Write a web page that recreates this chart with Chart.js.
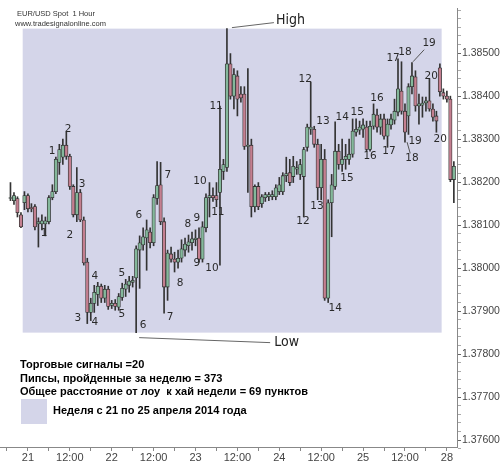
<!DOCTYPE html>
<html>
<head>
<meta charset="utf-8">
<script src="https://cdn.jsdelivr.net/npm/chart.js@4.4.1/dist/chart.umd.min.js"></script>
<style>
  body { margin: 0; background: #fff; }
  #wrap { position: relative; width: 500px; height: 468px; overflow: hidden; }
  #wrap canvas { position: absolute; left: 0; top: 0; }
  .hdr { position: absolute; font: 7.5px "Liberation Sans", Arial, sans-serif; color: #333; white-space: nowrap; }
  .info { position: absolute; left: 20px; font: bold 11px/13px "Liberation Sans", Arial, sans-serif; color: #000; white-space: nowrap; }
  .swatch { position: absolute; left: 21px; top: 399px; width: 26px; height: 25px; background: #d4d5e9; }
</style>
</head>
<body>
<div id="wrap">
  <canvas id="myChart" width="500" height="468"></canvas>
  <div class="hdr" style="left:17px;top:9px">EUR/USD Spot&nbsp; 1 Hour</div>
  <div class="hdr" style="left:15px;top:19px">www.tradesignalonline.com</div>
  <div class="info" style="top:358px">Торговые сигналы =20</div>
  <div class="info" style="top:372px">Пипсы, пройденные за неделю = 373</div>
  <div class="info" style="top:385px">Общее расстояние от лоу&nbsp; к хай недели = 69 пунктов</div>
  <div class="swatch"></div>
  <div class="info" style="left:53px;top:404px">Неделя с 21 по 25 апреля 2014 года</div>
</div>
<script>
// EUR/USD 1 hour candles, 21-25 Apr 2014 (+ first hours of 28 Apr)
// bar hour counted from 21 Apr 00:00, weekend hours left out
const firstBarHour = -5;

const opens = [
  1.38162, 1.38157, 1.38162, 1.38124, 1.38152, 1.38169, 1.38141, 1.38143, 1.38103, 1.38103,
  1.38103, 1.38108, 1.38164, 1.38178, 1.38246, 1.38258, 1.38286, 1.38260, 1.38190, 1.38124,
  1.38176, 1.38112, 1.38014, 1.37897, 1.37918, 1.37939, 1.37958, 1.37930, 1.37951, 1.37913,
  1.37918, 1.37909, 1.37932, 1.37951, 1.37960, 1.37967, 1.37977, 1.38042, 1.38054, 1.38070,
  1.38084, 1.38059, 1.38162, 1.38194, 1.38108, 1.37956, 1.38033, 1.38021, 1.38014, 1.38023,
  1.38042, 1.38052, 1.38059, 1.38066, 1.38070, 1.38021, 1.38094, 1.38164, 1.38169, 1.38169,
  1.38176, 1.38225, 1.38234, 1.38475, 1.38400, 1.38447, 1.38405, 1.38405, 1.38283, 1.38286,
  1.38143, 1.38190, 1.38150, 1.38164, 1.38166, 1.38166, 1.38166, 1.38178, 1.38178, 1.38215,
  1.38222, 1.38213, 1.38230, 1.38218, 1.38213, 1.38281, 1.38323, 1.38323, 1.38288, 1.38187,
  1.38253, 1.37930, 1.38152, 1.38190, 1.38272, 1.38241, 1.38253, 1.38253, 1.38265, 1.38316,
  1.38321, 1.38323, 1.38328, 1.38276, 1.38330, 1.38356, 1.38328, 1.38347, 1.38307, 1.38333,
  1.38344, 1.38363, 1.38412, 1.38365, 1.38354, 1.38422, 1.38445, 1.38377, 1.38379, 1.38384,
  1.38389, 1.38370, 1.38354, 1.38466, 1.38408, 1.38400, 1.38393, 1.38206
];
const highs = [
  1.38199, 1.38176, 1.38166, 1.38129, 1.38178, 1.38173, 1.38150, 1.38148, 1.38117, 1.38124,
  1.38119, 1.38169, 1.38194, 1.38258, 1.38288, 1.38300, 1.38316, 1.38265, 1.38194, 1.38234,
  1.38183, 1.38119, 1.38023, 1.37930, 1.37960, 1.37967, 1.37963, 1.37960, 1.37958, 1.37925,
  1.37927, 1.37941, 1.37965, 1.37974, 1.37981, 1.37981, 1.38052, 1.38075, 1.38094, 1.38112,
  1.38094, 1.38171, 1.38248, 1.38246, 1.38117, 1.38042, 1.38049, 1.38037, 1.38042, 1.38066,
  1.38070, 1.38077, 1.38084, 1.38089, 1.38094, 1.38108, 1.38173, 1.38199, 1.38187, 1.38199,
  1.38377, 1.38253, 1.38557, 1.38499, 1.38464, 1.38459, 1.38422, 1.38422, 1.38464, 1.38300,
  1.38194, 1.38199, 1.38171, 1.38176, 1.38176, 1.38180, 1.38194, 1.38211, 1.38222, 1.38258,
  1.38253, 1.38260, 1.38248, 1.38253, 1.38281, 1.38335, 1.38433, 1.38330, 1.38300, 1.38288,
  1.38276, 1.38159, 1.38218, 1.38340, 1.38288, 1.38300, 1.38288, 1.38300, 1.38347, 1.38347,
  1.38342, 1.38347, 1.38342, 1.38342, 1.38382, 1.38370, 1.38358, 1.38358, 1.38347, 1.38358,
  1.38393, 1.38487, 1.38480, 1.38382, 1.38429, 1.38478, 1.38459, 1.38405, 1.38398, 1.38398,
  1.38440, 1.38382, 1.38365, 1.38475, 1.38417, 1.38412, 1.38400, 1.38248
];
const lows = [
  1.38157, 1.38148, 1.38119, 1.38094, 1.38136, 1.38131, 1.38131, 1.38089, 1.38049, 1.38089,
  1.38075, 1.38103, 1.38159, 1.38173, 1.38218, 1.38241, 1.38253, 1.38183, 1.38119, 1.38108,
  1.38108, 1.38007, 1.37871, 1.37878, 1.37897, 1.37913, 1.37920, 1.37920, 1.37904, 1.37906,
  1.37902, 1.37902, 1.37925, 1.37934, 1.37944, 1.37956, 1.37850, 1.37953, 1.38042, 1.37995,
  1.38047, 1.38052, 1.38148, 1.38101, 1.37895, 1.37925, 1.38014, 1.37991, 1.38000, 1.38014,
  1.38028, 1.38037, 1.38042, 1.38052, 1.38014, 1.38014, 1.38084, 1.38119, 1.38155, 1.38143,
  1.38007, 1.38206, 1.38225, 1.38393, 1.38370, 1.38354, 1.38386, 1.38276, 1.38176, 1.38119,
  1.38131, 1.38136, 1.38141, 1.38155, 1.38157, 1.38159, 1.38159, 1.38171, 1.38171, 1.38201,
  1.38192, 1.38199, 1.38218, 1.38206, 1.38119, 1.38272, 1.38311, 1.38281, 1.38159, 1.38159,
  1.37925, 1.37920, 1.38073, 1.38183, 1.38230, 1.38225, 1.38230, 1.38241, 1.38258, 1.38307,
  1.38311, 1.38304, 1.38272, 1.38272, 1.38323, 1.38316, 1.38311, 1.38300, 1.38281, 1.38323,
  1.38335, 1.38354, 1.38358, 1.38293, 1.38311, 1.38405, 1.38365, 1.38335, 1.38351, 1.38365,
  1.38365, 1.38342, 1.38316, 1.38400, 1.38393, 1.38386, 1.38201, 1.38152
];
const closes = [
  1.38164, 1.38169, 1.38129, 1.38096, 1.38169, 1.38138, 1.38138, 1.38096, 1.38108, 1.38110,
  1.38110, 1.38164, 1.38178, 1.38253, 1.38276, 1.38286, 1.38260, 1.38190, 1.38124, 1.38176,
  1.38112, 1.38012, 1.37897, 1.37918, 1.37944, 1.37958, 1.37930, 1.37951, 1.37911, 1.37918,
  1.37911, 1.37934, 1.37953, 1.37963, 1.37970, 1.37972, 1.38045, 1.38059, 1.38073, 1.38089,
  1.38059, 1.38164, 1.38192, 1.38108, 1.37956, 1.38035, 1.38021, 1.38014, 1.38023, 1.38045,
  1.38056, 1.38061, 1.38068, 1.38070, 1.38021, 1.38096, 1.38164, 1.38169, 1.38164, 1.38159,
  1.38230, 1.38241, 1.38475, 1.38400, 1.38450, 1.38393, 1.38396, 1.38283, 1.38286, 1.38143,
  1.38190, 1.38143, 1.38166, 1.38171, 1.38171, 1.38171, 1.38187, 1.38194, 1.38215, 1.38220,
  1.38199, 1.38237, 1.38234, 1.38241, 1.38276, 1.38328, 1.38328, 1.38288, 1.38187, 1.38253,
  1.37930, 1.38152, 1.38194, 1.38272, 1.38241, 1.38253, 1.38260, 1.38265, 1.38319, 1.38323,
  1.38328, 1.38333, 1.38276, 1.38330, 1.38358, 1.38328, 1.38347, 1.38307, 1.38335, 1.38347,
  1.38365, 1.38417, 1.38365, 1.38316, 1.38422, 1.38447, 1.38377, 1.38382, 1.38384, 1.38389,
  1.38370, 1.38351, 1.38342, 1.38410, 1.38400, 1.38393, 1.38206, 1.38237
];

// highlighted trading week (bar hours)
const weekFirstBar = -1;
const weekLastBar = 118;

const xTickHours = [0, 12, 24, 36, 48, 60, 72, 84, 96, 108, 120];
const xTickLabels = ['21', '12:00', '22', '12:00', '23', '12:00', '24', '12:00', '25', '12:00', '28'];
const yTickLabels = ['1.37600', '1.37700', '1.37800', '1.37900', '1.38000', '1.38100', '1.38200', '1.38300', '1.38400', '1.38500'];

// trade signal numbers: [text, bar hour, price]
const signalLabels = [
  ['1', 6.9, 1.38272], ['1', 4.6, 1.38082], ['2', 11.5, 1.38323], ['2', 12.0, 1.38077],
  ['3', 15.5, 1.38194], ['3', 14.3, 1.37883], ['4', 19.2, 1.37981], ['4', 19.2, 1.37874],
  ['5', 26.9, 1.37988], ['5', 26.9, 1.37892], ['6', 31.8, 1.38122], ['6', 33.0, 1.37867],
  ['7', 40.1, 1.38215], ['7', 40.7, 1.37885], ['8', 45.8, 1.38101], ['8', 43.6, 1.37965],
  ['9', 48.4, 1.38117], ['9', 48.4, 1.38012], ['10', 49.3, 1.38201], ['10', 52.7, 1.38000],
  ['11', 53.9, 1.38377], ['11', 54.4, 1.38129], ['12', 79.4, 1.38440], ['12', 78.8, 1.38108],
  ['13', 84.5, 1.38342], ['13', 82.8, 1.38143], ['14', 90.0, 1.38351], ['14', 88.0, 1.37906],
  ['15', 94.3, 1.38363], ['15', 91.4, 1.38208], ['16', 100.0, 1.38396], ['16', 98.0, 1.38260],
  ['17', 104.6, 1.38489], ['17', 103.4, 1.38272], ['18', 108.0, 1.38501], ['18', 110.0, 1.38255],
  ['19', 114.9, 1.38522], ['19', 110.9, 1.38295], ['20', 115.5, 1.38447], ['20', 118.1, 1.38300]
];
// little pointer lines: [from hour, from price, to hour, to price]
const pointerLines = [
  [113.5, 1.38508, 110.3, 1.38480],
  [108.6, 1.38293, 109.5, 1.38267]
];

const GREEN = '#84b89b';
const RED = '#c47f90';
const SHADE = '#d4d5e9';
const font = '"Liberation Sans", Arial, sans-serif';

const hours = opens.map((o, i) => firstBarHour + i);
const wickData = hours.map((h, i) => ({ x: h, y: [lows[i], highs[i]] }));
const bodyData = hours.map((h, i) => ({ x: h, y: [opens[i], closes[i]] }));
const bodyColors = opens.map((o, i) => closes[i] >= o ? GREEN : RED);

const weekIdx = hours.map((h, i) => i).filter(i => hours[i] >= weekFirstBar && hours[i] <= weekLastBar);
const weekHighIdx = weekIdx.reduce((a, b) => highs[b] > highs[a] ? b : a);
const weekLowIdx = weekIdx.reduce((a, b) => lows[b] < lows[a] ? b : a);

const yTicks = [];
for (let k = 13758; k <= 13860; k += 2) yTicks.push(k / 10000);

const overlay = {
    id: 'overlay',
    beforeDatasetsDraw(chart) {
        const { ctx, scales: { x, y } } = chart;
        const left = x.getPixelForValue(weekFirstBar - 0.5);
        const right = x.getPixelForValue(weekLastBar + 0.5);
        const top = y.getPixelForValue(highs[weekHighIdx]);
        const bottom = y.getPixelForValue(lows[weekLowIdx]);
        ctx.save();
        ctx.fillStyle = SHADE;
        ctx.fillRect(left, top, right - left, bottom - top);
        ctx.restore();
    },
    afterDatasetsDraw(chart) {
        const { ctx, scales: { x, y } } = chart;
        ctx.save();
        ctx.fillStyle = '#2a2a2a';
        ctx.font = '10.5px "DejaVu Sans", Arial, sans-serif';
        ctx.textAlign = 'center';
        ctx.textBaseline = 'middle';
        signalLabels.forEach(([t, h, p]) => {
            ctx.fillText(t, x.getPixelForValue(h), y.getPixelForValue(p));
        });

        ctx.strokeStyle = '#555';
        ctx.lineWidth = 1;
        pointerLines.forEach(([h1, p1, h2, p2]) => {
            ctx.beginPath();
            ctx.moveTo(x.getPixelForValue(h1), y.getPixelForValue(p1));
            ctx.lineTo(x.getPixelForValue(h2), y.getPixelForValue(p2));
            ctx.stroke();
        });

        // High / Low callouts
        const hx = x.getPixelForValue(hours[weekHighIdx]);
        const hy = y.getPixelForValue(highs[weekHighIdx]);
        const lx = x.getPixelForValue(hours[weekLowIdx]);
        const ly = y.getPixelForValue(lows[weekLowIdx]);
        ctx.strokeStyle = '#666';
        ctx.beginPath();
        ctx.moveTo(hx + 5, hy - 1);
        ctx.lineTo(hx + 47, hy - 6);
        ctx.moveTo(lx + 3, ly + 5);
        ctx.lineTo(lx + 134, ly + 10);
        ctx.stroke();
        ctx.fillStyle = '#222';
        ctx.font = '14px "DejaVu Sans Condensed", ' + font;
        ctx.textAlign = 'left';
        ctx.fillText('High', hx + 49, hy - 8);
        ctx.fillText('Low', lx + 138, ly + 10);
        ctx.restore();
    }
};

const ctx = document.getElementById('myChart').getContext('2d');
const myChart = new Chart(ctx, {
    type: 'bar',
    data: {
        datasets: [{
            label: 'wick',
            data: wickData,
            backgroundColor: '#333',
            barThickness: 1,
            grouped: false,
            order: 2
        }, {
            label: 'body',
            data: bodyData,
            backgroundColor: bodyColors,
            borderColor: '#333',
            borderWidth: 0.8,
            borderSkipped: false,
            barThickness: 3.4,
            minBarLength: 1,
            grouped: false,
            order: 1
        }]
    },
    options: {
        responsive: false,
        animation: false,
        layout: { padding: { top: 8, left: 0, right: 0, bottom: 0 } },
        plugins: { legend: { display: false }, tooltip: { enabled: false } },
        scales: {
            x: {
                type: 'linear',
                min: -8,
                max: 122.9,
                offset: false,
                grid: { offset: false, drawOnChartArea: false, tickLength: 4, color: '#888' },
                border: { color: '#888' },
                afterBuildTicks: (scale) => {
                    const t = [];
                    for (let h = -6; h <= 120; h += 6) t.push({ value: h });
                    scale.ticks = t;
                },
                afterFit: (scale) => { scale.height = 21; },
                ticks: {
                    autoSkip: false,
                    maxRotation: 0,
                    padding: 0,
                    color: '#444',
                    font: { family: font, size: 11 },
                    callback: (v) => {
                        const k = xTickHours.indexOf(v);
                        return k >= 0 ? xTickLabels[k] : '';
                    }
                }
            },
            y: {
                position: 'right',
                min: 1.37584,
                max: 1.38605,
                beginAtZero: false,
                grid: {
                    drawOnChartArea: false,
                    tickLength: 4,
                    color: (c) => (c.tick && yTickLabels.includes(c.tick.value.toFixed(5))) ? '#666' : '#aaa'
                },
                border: { color: '#888' },
                afterBuildTicks: (scale) => { scale.ticks = yTicks.map(v => ({ value: v })); },
                afterFit: (scale) => { scale.width = 43; },
                ticks: {
                    autoSkip: false,
                    padding: 1,
                    color: '#444',
                    font: { family: font, size: 10.5 },
                    callback: (v) => {
                        const s = v.toFixed(5);
                        return yTickLabels.includes(s) ? s : '';
                    }
                }
            }
        }
    },
    plugins: [overlay]
});
</script>
</body>
</html>
